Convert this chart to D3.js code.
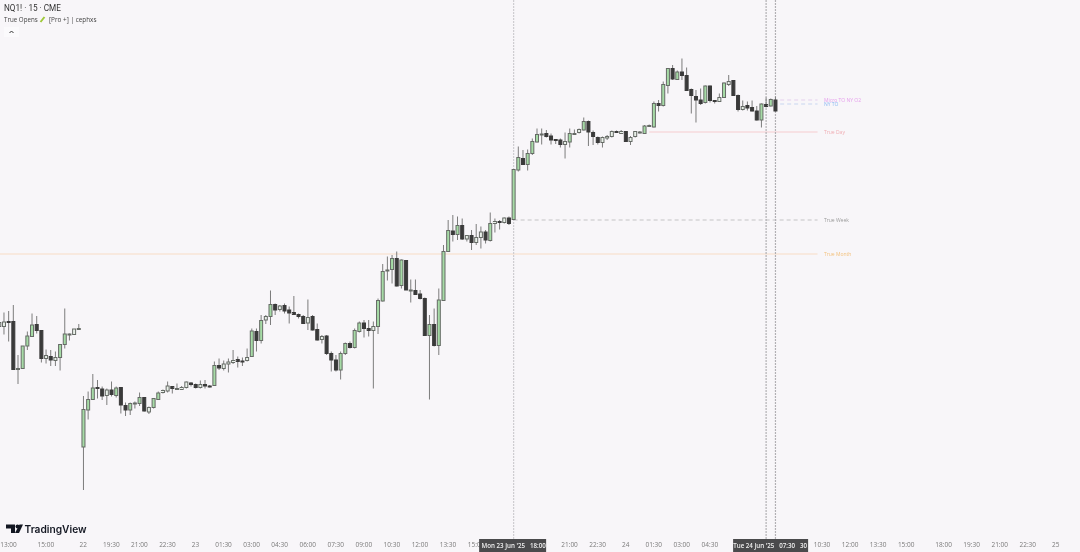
<!DOCTYPE html>
<html><head><meta charset="utf-8">
<script src="https://cdnjs.cloudflare.com/ajax/libs/d3/7.8.5/d3.min.js"></script>
<style>html,body{margin:0;padding:0;background:#f8f6f9;overflow:hidden}svg{display:block;filter:blur(0.5px)}text{font-family:"Open Sans","Liberation Sans",sans-serif}</style>
</head><body><div id="chart"></div>
<script>
const opens=[22347,22347,22357,22357,22261,22263,22308,22327,22351,22339,22283,22287,22279,22285,22311,22331,22331,22341,22106,22180,22201,22225,22222,22209,22220,22209,22225,22189,22180,22193,22193,22205,22176,22185,22201,22215,22218,22227,22221,22221,22225,22234,22231,22225,22231,22228,22229,22269,22263,22272,22275,22281,22278,22279,22287,22337,22319,22360,22367,22391,22381,22389,22380,22375,22371,22367,22354,22367,22341,22321,22328,22293,22280,22260,22293,22313,22305,22337,22354,22343,22339,22347,22398,22458,22461,22483,22429,22479,22419,22419,22412,22403,22329,22351,22309,22399,22497,22538,22531,22549,22522,22529,22515,22525,22536,22519,22553,22557,22555,22564,22561,22660,22683,22671,22693,22716,22731,22733,22728,22721,22720,22711,22716,22732,22735,22740,22757,22735,22725,22715,22724,22727,22737,22733,22737,22717,22727,22735,22733,22747,22746,22793,22789,22829,22863,22841,22856,22849,22821,22807,22800,22795,22828,22799,22797,22805,22831,22839,22809,22781,22789,22785,22778,22760,22791,22788,22800];
const highs=[22360,22375,22378,22390,22290,22308,22337,22373,22368,22340,22301,22300,22297,22311,22383,22333,22342,22352,22208,22217,22252,22240,22227,22223,22237,22227,22225,22195,22195,22197,22215,22205,22187,22203,22217,22221,22237,22228,22233,22228,22237,22236,22233,22239,22240,22230,22277,22283,22279,22283,22300,22287,22285,22303,22343,22343,22370,22370,22419,22393,22390,22393,22387,22408,22373,22370,22401,22370,22353,22330,22330,22297,22290,22297,22315,22317,22343,22357,22360,22360,22357,22403,22472,22487,22490,22497,22481,22480,22441,22441,22420,22405,22370,22383,22423,22510,22560,22570,22567,22563,22530,22540,22552,22547,22540,22575,22563,22560,22565,22567,22661,22707,22700,22701,22723,22743,22743,22740,22733,22721,22723,22735,22743,22741,22743,22765,22759,22739,22727,22727,22730,22739,22739,22740,22738,22728,22738,22738,22750,22751,22797,22800,22837,22863,22870,22859,22883,22865,22823,22820,22823,22829,22829,22800,22813,22835,22850,22840,22811,22799,22797,22799,22788,22793,22805,22803,22807];
const lows=[22333,22331,22317,22261,22232,22263,22300,22327,22333,22275,22273,22268,22268,22259,22303,22319,22330,22341,22020,22161,22201,22203,22200,22190,22207,22205,22173,22168,22170,22183,22188,22177,22172,22183,22200,22213,22215,22213,22220,22220,22223,22227,22223,22223,22223,22225,22228,22260,22259,22255,22272,22265,22268,22277,22287,22297,22313,22352,22350,22370,22377,22373,22353,22370,22363,22353,22340,22339,22319,22313,22290,22257,22257,22241,22290,22303,22303,22335,22325,22327,22223,22332,22397,22439,22433,22427,22423,22420,22395,22410,22401,22328,22201,22307,22290,22398,22497,22517,22520,22520,22517,22500,22510,22503,22513,22517,22535,22541,22553,22550,22561,22657,22670,22659,22690,22715,22711,22725,22711,22712,22705,22683,22705,22730,22733,22739,22708,22710,22711,22705,22720,22725,22735,22732,22717,22710,22725,22733,22732,22747,22745,22777,22787,22813,22840,22840,22840,22819,22773,22755,22790,22793,22795,22793,22796,22805,22828,22808,22777,22779,22779,22777,22759,22745,22785,22787,22777];
const closes=[22355,22356,22355,22261,22263,22308,22328,22350,22339,22283,22289,22280,22285,22311,22332,22332,22342,22343,22181,22201,22224,22223,22208,22220,22211,22224,22190,22180,22193,22194,22205,22178,22185,22203,22214,22219,22228,22223,22223,22225,22236,22231,22225,22231,22228,22227,22269,22264,22272,22276,22279,22277,22277,22285,22338,22319,22359,22367,22391,22380,22388,22378,22374,22371,22367,22353,22365,22340,22320,22327,22293,22280,22260,22293,22313,22305,22339,22354,22343,22339,22347,22399,22457,22460,22483,22428,22480,22420,22420,22411,22403,22329,22351,22309,22400,22497,22539,22531,22549,22522,22529,22515,22525,22536,22520,22553,22557,22555,22564,22553,22661,22685,22671,22693,22717,22731,22732,22727,22720,22719,22711,22717,22733,22733,22741,22757,22736,22727,22715,22725,22727,22737,22735,22737,22717,22725,22737,22736,22748,22749,22793,22789,22831,22863,22842,22856,22849,22819,22809,22800,22793,22828,22799,22797,22805,22834,22837,22809,22781,22787,22784,22778,22760,22792,22787,22801,22778];

const tickBars=[2,10,18,24,30,36,42,48,54,60,66,72,78,84,90,96,102,122,128,134,140,146,152,176,182,188,194,202,208,214,220,226];
const tickLabels=["13:00","15:00","22","19:30","21:00","22:30","23","01:30","03:00","04:30","06:00","07:30","09:00","10:30","12:00","13:30","15:00","21:00","22:30","24","01:30","03:00","04:30","10:30","12:00","13:30","15:00","18:00","19:30","21:00","22:30","25"];

const levelNames=["True Month","True Week","True Day","Micro TO NY O2","NY TO"];
const levelPrices=[22492,22560,22736,22800,22792];
const levelStarts=[-1,110,139,167,167];
const levelColors=["#f8dcc6","#c4c3c6","#f6ccd0","#e4d0ee","#c8d6f0"];
const levelDash=[null,"4 3",null,"4 3","4 3"];
const levelText=["#f3c27e","#9a9a9a","#f0aeb4","#e6a0ec","#8ab8f2"];
const cursorBars=[110,164,166];
const cursorColors=["#cfcdd1","#b2b0b4","#b2b0b4"];
const tagBars=[110,164];
const tagTexts=["Mon 23 Jun '25   18:00","Tue 24 Jun '25   07:30   30"];
const tagWidths=[67,75];

const W=1080,H=552;
const x=d3.scaleLinear().domain([0,226]).range([-0.7,1056]);
const y=d3.scaleLinear().domain([21896,23000]).range([552,0]);
const svg=d3.select("#chart").append("svg").attr("width",W).attr("height",H);
svg.append("rect").attr("width",W).attr("height",H).attr("fill","#f8f6f9");

const idx=d3.range(opens.length);
// level lines
const lineEnd=x(175);
svg.selectAll("line.level").data(levelNames).join("line").attr("class","level")
 .attr("x1",(d,i)=>x(levelStarts[i])).attr("x2",lineEnd)
 .attr("y1",(d,i)=>y(levelPrices[i])).attr("y2",(d,i)=>y(levelPrices[i]))
 .attr("stroke",(d,i)=>levelColors[i]).attr("stroke-width",1.2).attr("stroke-dasharray",(d,i)=>levelDash[i]);
svg.selectAll("text.level").data(levelNames).join("text").attr("class","level")
 .attr("x",824).attr("y",(d,i)=>y(levelPrices[i])+2).attr("font-size",5).attr("fill",(d,i)=>levelText[i])
 .text(d=>d);
// cursors
svg.selectAll("line.cursor").data(cursorBars).join("line").attr("class","cursor")
 .attr("x1",d=>x(d)).attr("x2",d=>x(d)).attr("y1",0).attr("y2",540)
 .attr("stroke",(d,i)=>cursorColors[i]).attr("stroke-width",1.2).attr("stroke-dasharray","2 1");
// wicks
svg.selectAll("line.wick").data(idx).join("line").attr("class","wick")
 .attr("x1",i=>x(i)).attr("x2",i=>x(i)).attr("y1",i=>y(highs[i])).attr("y2",i=>y(lows[i]))
 .attr("stroke","#7c7c7c").attr("stroke-width",1);
// bodies
const bodyH=i=>Math.max(1,Math.abs(y(opens[i])-y(closes[i])));
svg.selectAll("rect.body").data(idx).join("rect").attr("class","body")
 .attr("x",i=>x(i)-1.5).attr("width",3)
 .attr("y",i=>y(Math.max(opens[i],closes[i]))).attr("height",bodyH)
 .attr("fill",i=>closes[i]>=opens[i]?(bodyH(i)<6?"#eaf1ea":"#a6dba6"):"#3a3a3a")
 .attr("stroke",i=>closes[i]>=opens[i]?"#666b66":"#3a3a3a").attr("stroke-width",1);
// time axis
const axis=d3.axisBottom(x).tickValues(tickBars).tickFormat((d,i)=>tickLabels[i]).tickSize(0);
const ag=svg.append("g").attr("transform","translate(-0.7,541)").call(axis);
ag.select(".domain").remove();
ag.selectAll("text").attr("fill","#7a7a7a").attr("font-size",6.5).attr("dy",0).attr("y",6).style("font-family",'"Open Sans",sans-serif');
// tags
const tg=svg.selectAll("g.tag").data(tagBars).join("g").attr("class","tag");
tg.append("rect").attr("x",(d,i)=>x(d)+(i?-33:-34.5)).attr("y",539).attr("width",(d,i)=>tagWidths[i]).attr("height",13).attr("fill","#4a4a4c");
tg.append("text").attr("x",(d,i)=>x(d)+(i?4:0)).attr("y",548).attr("text-anchor","middle").attr("font-size",6.2).attr("font-weight",600).attr("fill","#f0f0f0").style("white-space","pre").text((d,i)=>tagTexts[i]);
// header
svg.append("text").attr("x",4).attr("y",11).attr("font-size",8.2).attr("fill","#333").style("font-family","Roboto,sans-serif").text("NQ1! · 15 · CME");
svg.append("text").attr("x",4).attr("y",22).attr("font-size",6.2).attr("fill","#444").text("True Opens");
svg.append("path").attr("d","M40.5 22 L44.5 17").attr("stroke","#9fc93a").attr("stroke-width",2).attr("fill","none");
svg.append("text").attr("x",49).attr("y",22).attr("font-size",6.4).attr("fill","#444").text("[Pro +] | cephxs");
svg.append("rect").attr("x",4).attr("y",27).attr("width",15).attr("height",10).attr("fill","#fbfafc");
svg.append("path").attr("d","M9.5 33 L11.5 31 L13.5 33").attr("stroke","#333").attr("stroke-width",1).attr("fill","none");
// logo
svg.append("path").attr("fill","#131722").attr("d","M6 524.5H15V533H11V528.5H6Z");
svg.append("circle").attr("cx",17.5).attr("cy",526.5).attr("r",2).attr("fill","#131722");
svg.append("path").attr("fill","#131722").attr("d","M19.5 524.5H23L19 533H15Z");
svg.append("text").attr("x",24.5).attr("y",533).attr("font-size",10.2).attr("font-weight",600).attr("fill","#131722").style("font-family",'"Inter","Open Sans",sans-serif').text("TradingView");
</script></body></html>
